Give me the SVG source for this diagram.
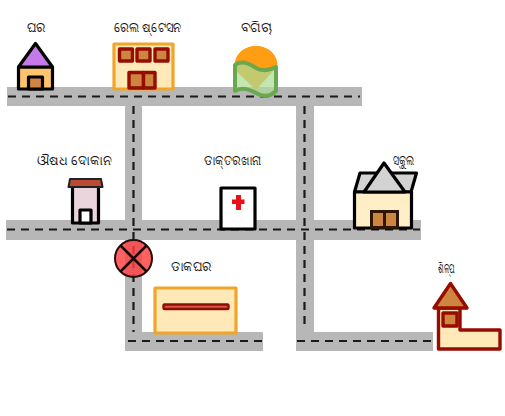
<svg xmlns="http://www.w3.org/2000/svg" width="505" height="416" viewBox="0 0 505 416">
<style>
text{font-family:"Noto Sans","Noto Sans CJK SC","DejaVu Sans",sans-serif;font-size:13px;fill:#111;text-anchor:middle}
.road{fill:#b7b7b7}
.dash{fill:none;stroke:#1a1a1a;stroke-width:2.2;stroke-dasharray:8 6}
.k{stroke:#000;stroke-width:3.2;stroke-linejoin:round}
.r{stroke:#960c00;stroke-width:3.4;stroke-linejoin:round}
.o{stroke:#f0a528;stroke-width:3.2;stroke-linejoin:round}
</style>
<rect width="505" height="416" fill="#fff"/>
<g id="connectors">
<rect class="road" x="7" y="87" width="355" height="19"/>
<rect class="road" x="6" y="220" width="415" height="20"/>
<rect class="road" x="125" y="106" width="17" height="245" rx="1"/>
<rect class="road" x="296" y="106" width="18" height="245"/>
<rect class="road" x="126" y="332" width="137" height="19" rx="1"/>
<rect class="road" x="296" y="332" width="137" height="19"/>
<path class="dash" d="M8 96.500H360"/>
<path class="dash" d="M7 229.500H420"/>
<path class="dash" d="M133.500 106V332"/>
<path class="dash" d="M304.500 106V325"/>
<path class="dash" d="M128 341H262"/>
<path class="dash" d="M297 341H432"/>
</g>
<g id="house">
<rect class="k" x="18.500" y="67" width="34" height="22" fill="#fdc470"/>
<path class="k" d="M18.500 67L35.500 43.500L52.500 67Z" fill="#c47ae8"/>
<rect class="k" x="28.500" y="77" width="14" height="12" fill="#cd853f"/>
<text x="36" y="32" textLength="19" lengthAdjust="spacingAndGlyphs">ଘର</text>
</g>
<g id="station">
<rect class="o" x="114" y="44" width="59" height="45" fill="#ffe9b8"/>
<g class="r" fill="#cd853f">
<rect x="119.500" y="49" width="13" height="12"/>
<rect x="137" y="49" width="13" height="12"/>
<rect x="155" y="49" width="13" height="12"/>
<rect x="129" y="72.500" width="14.500" height="15.500"/>
<rect x="143.500" y="72.500" width="11.500" height="15.500"/>
</g>
<text x="147.500" y="32" textLength="67" lengthAdjust="spacingAndGlyphs">ରେଲ ଷ୍ଟେସନ</text>
</g>
<g id="garden">
<path d="M234.500 66C234.500 54 244 46 256 46C268 46 277.500 54 277.500 66L256 90L235 70Z" fill="#ff9e12"/>
<path d="M235 65C241 60 250 64 256 68C263 72 270 70 276 67V91C270 97 263 97 256 93C249 89 241 87 235 91Z" fill="#a9dc95" fill-opacity=".7" stroke="#6aa84f" stroke-width="4" stroke-linejoin="round"/>
<text x="256" y="32" textLength="31" lengthAdjust="spacingAndGlyphs">ବଗିଚା</text>
</g>
<g id="pharmacy">
<rect class="k" x="72.500" y="184" width="26" height="39" fill="#ead5dc"/>
<path d="M70 179H101L102.500 187H68.500Z" fill="#b94a34" stroke="#222" stroke-width="2" stroke-linejoin="round"/>
<rect class="k" x="80" y="210" width="11" height="13" fill="#fff"/>
<text x="74.500" y="165" textLength="75" lengthAdjust="spacingAndGlyphs">ଔଷଧ ଦୋକାନ</text>
</g>
<g id="hospital">
<rect class="k" x="221" y="188" width="34" height="41" fill="#fff"/>
<path d="M236 195H241V199.500H244.500V204H241V210H236V204H232V199.500H236Z" fill="#e8111a"/>
<text x="232.500" y="165" textLength="57" lengthAdjust="spacingAndGlyphs">ଡାକ୍ତରଖାନା</text>
</g>
<g id="school">
<path class="k" d="M354.500 192L360 173H416.500L411 192Z" fill="#d3d3d3"/>
<rect class="k" x="354.500" y="192" width="57" height="36" fill="#ffeec6"/>
<path class="k" d="M364 192L384 163L405 192Z" fill="#d3d3d3"/>
<rect x="371.500" y="211.500" width="26" height="16" fill="#cd853f" stroke="#2b1608" stroke-width="3"/>
<path d="M384.500 211V228" stroke="#2b1608" stroke-width="3"/>
<text x="403.500" y="165" textLength="21" lengthAdjust="spacingAndGlyphs">ସ୍କୁଲ</text>
</g>
<g id="post-box">
<circle cx="133.500" cy="258.500" r="18.500" fill="#ff4040" fill-opacity=".82" stroke="#2a0a0a" stroke-width="2"/>
<path d="M120.500 245.500L146.500 271.500M146.500 245.500L120.500 271.500" stroke="#1a0505" stroke-width="2.500"/>
</g>
<g id="post-office">
<rect class="o" x="155" y="288" width="81" height="45" fill="#ffe9b8"/>
<rect x="163.500" y="304.500" width="65" height="4.500" rx="1" fill="#d9534f" stroke="#8b0f00" stroke-width="2.400"/>
<text x="191.500" y="271" textLength="41" lengthAdjust="spacingAndGlyphs">ଡାକଘର</text>
</g>
<g id="industry">
<path class="r" d="M438.500 308V349H500V330H460V308Z" fill="#ffe9b8"/>
<path class="r" d="M434 308L450.500 283.500L467 308Z" fill="#cd853f"/>
<rect class="r" x="443" y="313" width="14" height="13" fill="#cd853f"/>
<text x="446.500" y="273" textLength="17" lengthAdjust="spacingAndGlyphs">ଶିଳ୍ପ</text>
</g>
</svg>
